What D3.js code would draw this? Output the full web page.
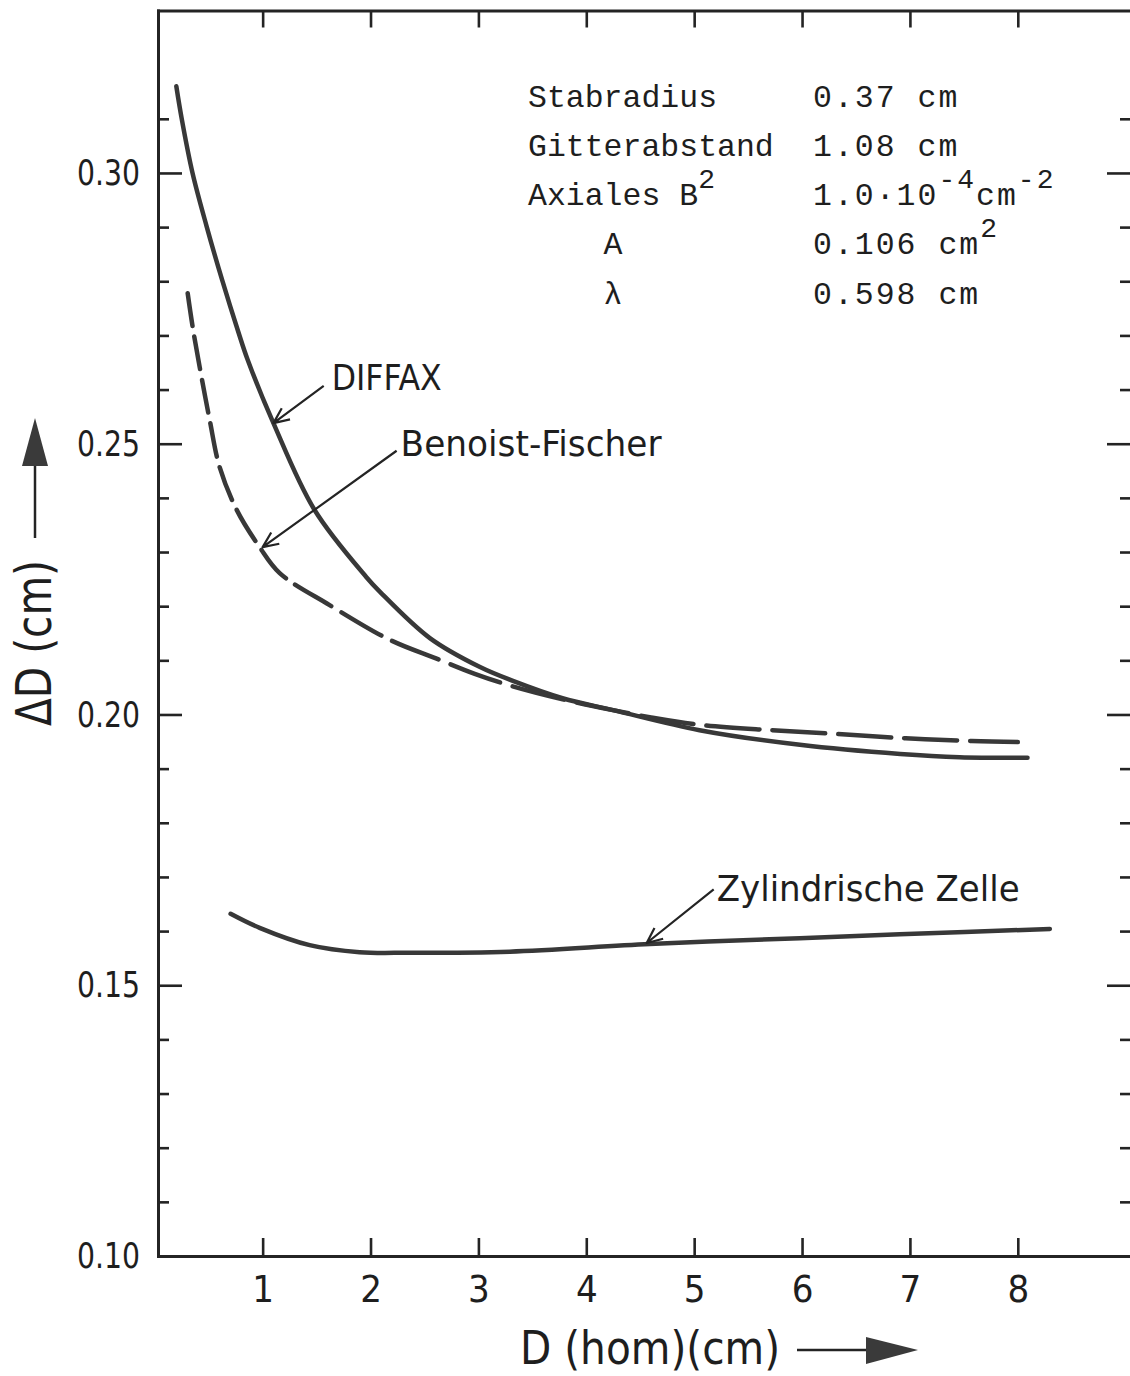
<!DOCTYPE html>
<html>
<head>
<meta charset="utf-8">
<script src="https://cdn.jsdelivr.net/npm/d3@7/dist/d3.min.js"></script>
<style>
  html, body { margin: 0; padding: 0; background: #fff; }
  svg { display: block; }
  .lbl { font-family: "DejaVu Sans Condensed", "DejaVu Sans", sans-serif; font-stretch: condensed; fill: #1e1e1e; }
  .mono { font-family: "Liberation Mono", "DejaVu Sans Mono", monospace; fill: #1e1e1e; white-space: pre; }
</style>
</head>
<body>
<svg id="chart" width="1130" height="1376"></svg>
<script>
// values: D(hom) in cm -> delta D in cm
var diffaxX = [0.20, 0.25, 0.35, 0.48, 0.625, 0.777, 0.861, 1.10, 1.48, 1.96, 2.09, 2.55, 3.01, 3.32, 3.78, 4.25, 5.05, 5.98, 6.91, 7.46, 8.09];
var diffaxY = [0.316, 0.310, 0.300, 0.2902, 0.2802, 0.2705, 0.2655, 0.2538, 0.2378, 0.2254, 0.2226, 0.2141, 0.2088, 0.2062, 0.2030, 0.2008, 0.1971, 0.1944, 0.1927, 0.1921, 0.1920];

var benoistX = [0.305, 0.351, 0.416, 0.509, 0.601, 0.759, 0.972, 1.158, 1.621, 2.177, 2.613, 2.966, 3.318, 3.781, 4.245, 4.588, 5.052, 5.719, 6.322, 6.961, 7.573, 8.0];
var benoistY = [0.2778, 0.2716, 0.2642, 0.2544, 0.2457, 0.2378, 0.2309, 0.2261, 0.2202, 0.2138, 0.2103, 0.2075, 0.2052, 0.2028, 0.2008, 0.1995, 0.1981, 0.1971, 0.1964, 0.1956, 0.1951, 0.1949];

var zylX = [0.703, 0.972, 1.436, 1.899, 2.363, 3.290, 4.588, 5.979, 6.906, 8.297];
var zylY = [0.1632, 0.1606, 0.1574, 0.1561, 0.1560, 0.1562, 0.1576, 0.1587, 0.1594, 0.1604];

var xTicks = [1, 2, 3, 4, 5, 6, 7, 8];
var yMajor = [0.10, 0.15, 0.20, 0.25, 0.30];
var yMinor = [0.11, 0.12, 0.13, 0.14, 0.16, 0.17, 0.18, 0.19, 0.21, 0.22, 0.23, 0.24, 0.26, 0.27, 0.28, 0.29, 0.31];

// typed parameter table, [text, superscript?]
var infoNames = [
  [["Stabradius", 0]],
  [["Gitterabstand", 0]],
  [["Axiales B", 0], ["2", 1]],
  [["    A", 0]],
  [["    λ", 0]]
];
var infoValues = [
  [["0.37 cm", 0]],
  [["1.08 cm", 0]],
  [["1.0·10", 0], ["-4", 1], ["cm", 0], ["-2", 1]],
  [["0.106 cm", 0], ["2", 1]],
  [["0.598 cm", 0]]
];

var W = 1130, H = 1376;
var ink = "#242424";
var svg = d3.select("#chart");
svg.append("rect").attr("width", W).attr("height", H).attr("fill", "#fff");

var x = d3.scaleLinear().domain([0.03, 9.04]).range([158, 1130]);
var y = d3.scaleLinear().domain([0.10, 0.33]).range([1256, 10.5]);

function styleAxis(g, w) {
  g.selectAll("path.domain").attr("stroke", ink).attr("stroke-width", w).attr("stroke-linecap", "square");
  g.selectAll(".tick line").attr("stroke", ink).attr("stroke-width", 2.6);
  g.selectAll(".tick text").attr("class", "lbl").attr("fill", "#1e1e1e");
}

// left axis, major + minor
var gl = svg.append("g").attr("transform", "translate(158,0)")
  .call(d3.axisLeft(y).tickValues(yMajor).tickSize(-24).tickSizeOuter(0).tickPadding(18).tickFormat(d3.format(".2f")));
styleAxis(gl, 3);
gl.selectAll(".tick text").attr("font-size", 36).attr("textLength", 63).attr("lengthAdjust", "spacingAndGlyphs");
var glm = svg.append("g").attr("transform", "translate(158,0)")
  .call(d3.axisLeft(y).tickValues(yMinor).tickSize(-11).tickFormat(""));
glm.select(".domain").remove();
styleAxis(glm, 0);

// right side ticks
var gr = svg.append("g").attr("transform", "translate(1132,0)")
  .call(d3.axisRight(y).tickValues(yMajor.slice(1)).tickSize(-25).tickFormat(""));
gr.select(".domain").remove();
styleAxis(gr, 0);
var grm = svg.append("g").attr("transform", "translate(1132,0)")
  .call(d3.axisRight(y).tickValues(yMinor).tickSize(-12).tickFormat(""));
grm.select(".domain").remove();
styleAxis(grm, 0);

// bottom + top
var gb = svg.append("g").attr("transform", "translate(0," + y(0.10) + ")")
  .call(d3.axisBottom(x).tickValues(xTicks).tickSize(-18).tickSizeOuter(0).tickPadding(19).tickFormat(d3.format("d")));
styleAxis(gb, 3);
gb.selectAll(".tick text").attr("font-size", 38);
var gt = svg.append("g").attr("transform", "translate(0," + y(0.33) + ")")
  .call(d3.axisTop(x).tickValues(xTicks).tickSize(-17).tickSizeOuter(0).tickFormat(""));
styleAxis(gt, 3);
svg.selectAll(".tick text").attr("font-family", null);

// curves
var line = d3.line().x(function(d) { return x(d[0]); }).y(function(d) { return y(d[1]); })
  .curve(d3.curveCatmullRom.alpha(0.5));

function pairs(xs, ys) { return xs.map(function(v, i) { return [v, ys[i]]; }); }

svg.append("path").datum(pairs(zylX, zylY)).attr("d", line)
  .attr("fill", "none").attr("stroke", "#383838").attr("stroke-width", 4.5).attr("stroke-linecap", "round");
svg.append("path").datum(pairs(diffaxX, diffaxY)).attr("d", line)
  .attr("fill", "none").attr("stroke", "#383838").attr("stroke-width", 4.5).attr("stroke-linecap", "round");
svg.append("path").datum(pairs(benoistX, benoistY)).attr("d", line)
  .attr("fill", "none").attr("stroke", "#383838").attr("stroke-width", 4.5).attr("stroke-linecap", "round")
  .attr("stroke-dasharray", "33,11,33,11,33,11,34,11,35,11,36,11,38,11,42,12,46,12,50,13,53,13,53,13,53,13,53,13,53,13,53,13,53,13,53,13,53,13,53,13,53,13");

// labels with arrows (positions in data units)
var notes = [
  { text: "DIFFAX", tx: 1.64, ty: 0.2599, len: 110, sx: 1.566, sy: 0.2607, ex: 1.10, ey: 0.2538 },
  { text: "Benoist-Fischer", tx: 2.279, ty: 0.2477, len: 261, sx: 2.242, sy: 0.2487, ex: 1.0, ey: 0.2309 },
  { text: "Zylindrische Zelle", tx: 5.209, ty: 0.1656, len: 303, sx: 5.181, sy: 0.1677, ex: 4.56, ey: 0.1578 }
];

function arrow(g, x1, y1, x2, y2) {
  var a = Math.atan2(y2 - y1, x2 - x1), L = 17, s = 0.42;
  var p = d3.path();
  p.moveTo(x1, y1); p.lineTo(x2, y2);
  p.moveTo(x2 - L * Math.cos(a - s), y2 - L * Math.sin(a - s));
  p.lineTo(x2, y2);
  p.lineTo(x2 - L * Math.cos(a + s), y2 - L * Math.sin(a + s));
  g.append("path").attr("d", p.toString()).attr("fill", "none")
    .attr("stroke", ink).attr("stroke-width", 2.2).attr("stroke-linejoin", "round");
}

var gn = svg.append("g");
notes.forEach(function(n) {
  gn.append("text").attr("class", "lbl").attr("x", x(n.tx)).attr("y", y(n.ty))
    .attr("font-size", 36).attr("textLength", n.len).attr("lengthAdjust", "spacingAndGlyphs").text(n.text);
  arrow(gn, x(n.sx), y(n.sy), x(n.ex), y(n.ey));
});

// parameter table
var rowY = [107, 156, 205, 254, 304];
function typed(xpos, rows, spacing) {
  rows.forEach(function(row, i) {
    var t = svg.append("text").attr("class", "mono").attr("x", xpos).attr("y", rowY[i])
      .attr("font-size", 31.5).attr("letter-spacing", spacing);
    row.forEach(function(seg, j) {
      var prevSup = j > 0 && row[j - 1][1];
      var dy = seg[1] ? -17 : (prevSup ? 17 : 0);
      t.append("tspan").attr("dy", dy).attr("font-size", seg[1] ? 28 : null).text(seg[0]);
    });
  });
}
typed(528, infoNames, 0);
typed(813, infoValues, 2);

// axis titles
svg.append("text").attr("class", "lbl").attr("transform", "translate(51,726) rotate(-90)")
  .attr("font-size", 50).attr("textLength", 166).attr("lengthAdjust", "spacingAndGlyphs").text("ΔD (cm)");
svg.append("line").attr("x1", 35).attr("x2", 35).attr("y1", 538).attr("y2", 462)
  .attr("stroke", ink).attr("stroke-width", 2.5);
svg.append("path").attr("d", "M35,418L22,466L48,466Z").attr("fill", "#3a3a3a");

svg.append("text").attr("class", "lbl").attr("x", 520).attr("y", 1364)
  .attr("font-size", 46).attr("textLength", 260).attr("lengthAdjust", "spacingAndGlyphs").text("D (hom)(cm)");
svg.append("line").attr("x1", 797).attr("x2", 870).attr("y1", 1350).attr("y2", 1350)
  .attr("stroke", ink).attr("stroke-width", 2.5);
svg.append("path").attr("d", "M866,1337L918,1350L866,1364Z").attr("fill", "#3a3a3a");
</script>
</body>
</html>
